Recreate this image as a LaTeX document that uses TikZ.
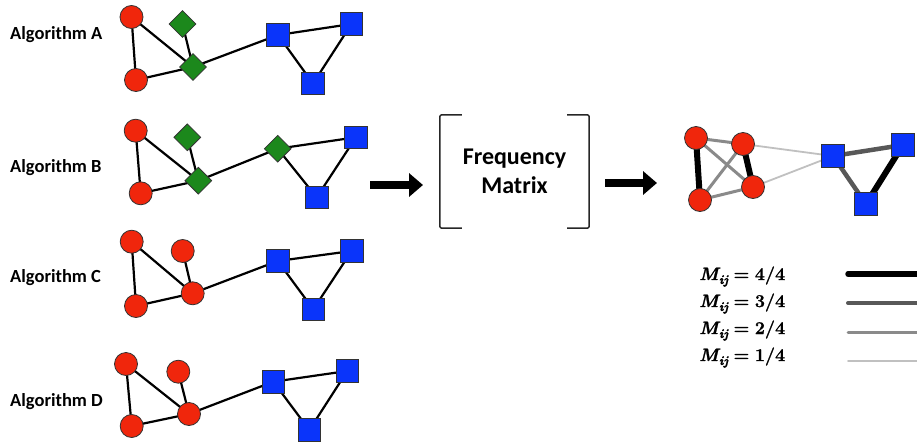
\documentclass[tikz,border=0pt]{standalone}
\usepackage{fontspec}
\newfontfamily\calib{Carlito}
\newfontfamily\legfont{Latin Modern Roman}[FakeBold=1.2]
\usetikzlibrary{shapes.geometric,arrows.meta,backgrounds}
\definecolor{nodered}{RGB}{240,38,12}
\definecolor{nodegreen}{RGB}{28,136,28}
\definecolor{nodeblue}{RGB}{10,52,250}
\definecolor{freqthree}{RGB}{88,88,88}
\definecolor{freqtwo}{RGB}{138,138,138}
\definecolor{freqone}{RGB}{192,192,192}
% legend formula M_ij = k/4, set in bold text fonts
\newcommand{\mijfrac}[1]{%
  {\itshape M}\kern0.3pt\raisebox{-4pt}{\fontsize{13}{13}\selectfont\itshape ij}%
  \hspace{5.5pt}={}\hspace{5.5pt}#1/4}
\begin{document}
\begin{tikzpicture}[x=1pt,y=-1pt,
  vred/.style={circle,draw=black!80,line width=0.8pt,fill=nodered,minimum size=23pt,inner sep=0pt},
  vgreen/.style={diamond,draw=black!80,line width=0.8pt,fill=nodegreen,minimum width=27pt,minimum height=27pt,inner sep=0pt},
  vblue/.style={rectangle,draw=black!80,line width=0.8pt,fill=nodeblue,minimum size=22.5pt,inner sep=0pt},
  link/.style={line width=2.2pt,black},
  fq4/.style={line width=6pt,black},
  fq3/.style={line width=4.5pt,freqthree},
  fq2/.style={line width=3pt,freqtwo},
  fq1/.style={line width=1.8pt,freqone},
  alglabel/.style={anchor=west,inner sep=0pt,font=\calib\bfseries\fontsize{18.5}{21}\selectfont},
  legtext/.style={anchor=base west,inner sep=0pt,font=\legfont\bfseries\fontsize{18}{21}\selectfont},
  bracketline/.style={line width=1.5pt,black!85,rounded corners=1.5pt},
  blockarrow/.style={line width=8pt,-{Triangle[length=14pt,width=23pt]}},
]
\useasboundingbox (0,0) rectangle (917,447);

% ---- Algorithm A ----
\node[alglabel] (la) at (10,35) {Algorithm A};
\node[vred]   (a1) at (131.5,17) {};
\node[vred]   (a2) at (136,80) {};
\node[vgreen] (a3) at (182.5,24) {};
\node[vgreen] (a4) at (193,67) {};
\node[vblue]  (a5) at (278,35) {};
\node[vblue]  (a6) at (351.5,24) {};
\node[vblue]  (a7) at (313,83.5) {};

% ---- Algorithm B ----
\node[alglabel] (lb) at (10,168) {Algorithm B};
\node[vred]   (b1) at (135.7,130.7) {};
\node[vred]   (b2) at (140.7,193.3) {};
\node[vgreen] (b3) at (187.3,137.3) {};
\node[vgreen] (b4) at (198.3,180.7) {};
\node[vgreen] (b5) at (277.7,148.7) {};
\node[vblue]  (b6) at (356,137.3) {};
\node[vblue]  (b7) at (316.7,197.3) {};

% ---- Algorithm C ----
\node[alglabel] (lc) at (10,278) {Algorithm C};
\node[vred]   (c1) at (131.7,241.7) {};
\node[vred]   (c2) at (136,306) {};
\node[vred]   (c3) at (182.7,251) {};
\node[vred]   (c4) at (192.7,293.3) {};
\node[vblue]  (c5) at (277.7,261) {};
\node[vblue]  (c6) at (351.7,251) {};
\node[vblue]  (c7) at (313.3,309.3) {};

% ---- Algorithm D ----
\node[alglabel] (ld) at (10,402) {Algorithm D};
\node[vred]   (d1) at (126,364) {};
\node[vred]   (d2) at (131.7,426) {};
\node[vred]   (d3) at (178.3,371.7) {};
\node[vred]   (d4) at (189,414) {};
\node[vblue]  (d5) at (273.3,381.7) {};
\node[vblue]  (d6) at (347.3,371) {};
\node[vblue]  (d7) at (309.3,430) {};

% ---- consensus graph ----
\node[vred]  (r1) at (696,138) {};
\node[vred]  (r2) at (743,144) {};
\node[vred]  (r3) at (700,200) {};
\node[vred]  (r4) at (753,187) {};
\node[vblue] (q1) at (833,156) {};
\node[vblue] (q2) at (903,145) {};
\node[vblue] (q3) at (866,204) {};

\begin{pgfonlayer}{background}
  \foreach \g in {a,c,d}{
    \draw[link] (\g1.center) -- (\g2.center);
    \draw[link] (\g1.center) -- (\g4.center);
    \draw[link] (\g2.center) -- (\g4.center);
    \draw[link] (\g3.center) -- (\g4.center);
    \draw[link] (\g4.center) -- (\g5.center);
    \draw[link] (\g5.center) -- (\g6.center);
    \draw[link] (\g5.center) -- (\g7.center);
    \draw[link] (\g6.center) -- (\g7.center);
  }
  \draw[link] (b1.center) -- (b2.center);
  \draw[link] (b1.center) -- (b4.center);
  \draw[link] (b2.center) -- (b4.center);
  \draw[link] (b3.center) -- (b4.center);
  \draw[link] (b4.center) -- (b5.center);
  \draw[link] (b5.center) -- (b6.center);
  \draw[link] (b5.center) -- (b7.center);
  \draw[link] (b6.center) -- (b7.center);

  \draw[fq2] (r1.center) -- (r2.center);
  \draw[fq2] (r1.center) -- (r4.center);
  \draw[fq2] (r3.center) -- (r2.center);
  \draw[fq2] (r3.center) -- (r4.center);
  \draw[fq1] (r2.center) -- (q1.center);
  \draw[fq1] (r4.center) -- (q1.center);
  \draw[fq4] (r1.center) -- (r3.center);
  \draw[fq4] (r2.center) -- (r4.center);
  \draw[fq3] (q1.center) -- (q2.center);
  \draw[fq3] (q1.center) -- (q3.center);
  \draw[fq4] (q2.center) -- (q3.center);
\end{pgfonlayer}

% ---- frequency matrix ----
\node[minimum width=149pt,minimum height=113pt,align=center,inner sep=0pt,
      font=\calib\bfseries\fontsize{24}{29}\selectfont] (fm) at (514.5,171.5) {Frequency\\Matrix};
\draw[bracketline] ([xshift=22pt]fm.north west) -- (fm.north west) -- (fm.south west) -- ([xshift=22pt]fm.south west);
\draw[bracketline] ([xshift=-22pt]fm.north east) -- (fm.north east) -- (fm.south east) -- ([xshift=-22pt]fm.south east);

\coordinate (s1) at (370,185);
\coordinate (e1) at (423,185);
\coordinate (s2) at (605,183);
\coordinate (e2) at (657,183);
\draw[blockarrow] (s1) -- (e1);
\draw[blockarrow] (s2) -- (e2);

% ---- legend ----
\node[legtext] (m4) at (699,280) {\mijfrac{4}};
\node[legtext] (m3) at (699,307) {\mijfrac{3}};
\node[legtext] (m2) at (699,334) {\mijfrac{2}};
\node[legtext] (m1) at (699,361) {\mijfrac{1}};
\coordinate (k4a) at (848,274); \coordinate (k4b) at (922,274);
\coordinate (k3a) at (848,303); \coordinate (k3b) at (922,303);
\coordinate (k2a) at (848,332); \coordinate (k2b) at (922,332);
\coordinate (k1a) at (848,361); \coordinate (k1b) at (922,361);
\draw[fq4,line width=5.5pt,line cap=round] (k4a) -- (k4b);
\draw[fq3,line width=4pt,line cap=round] (k3a) -- (k3b);
\draw[fq2,line cap=round] (k2a) -- (k2b);
\draw[fq1,line cap=round] (k1a) -- (k1b);
\end{tikzpicture}
\end{document}
